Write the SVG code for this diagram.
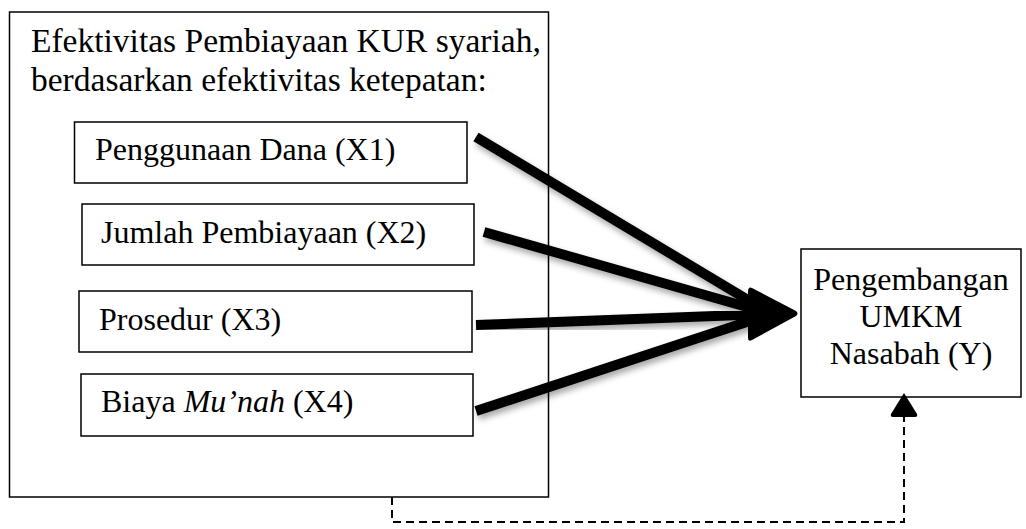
<svg xmlns="http://www.w3.org/2000/svg" width="1026" height="529" viewBox="0 0 1026 529">
<style>
.box{fill:#fff;stroke:#000;stroke-width:1.5}
.t{font-family:"Liberation Serif","Times New Roman",serif;font-size:32px;fill:#000}
.title{font-size:33.5px}
.thick{stroke:#000;stroke-width:10;fill:none;filter:url(#sh)}
.dash{stroke:#000;stroke-width:2;fill:none;stroke-dasharray:8 5}
</style>
<defs>
<filter id="sh" x="-20%" y="-20%" width="140%" height="160%">
<feDropShadow dx="2" dy="4" stdDeviation="3" flood-color="#000" flood-opacity="0.35"/>
</filter>
</defs>
<g id="outer">
<rect class="box" x="9.5" y="12" width="539" height="485"/>
<text class="t title" x="31" y="52">Efektivitas Pembiayaan KUR syariah,</text>
<text class="t title" x="31" y="91">berdasarkan efektivitas ketepatan:</text>
</g>
<g id="x1">
<rect class="box" x="74.5" y="122" width="392.5" height="61"/>
<text class="t" x="95" y="160">Penggunaan Dana (X1)</text>
</g>
<g id="x2">
<rect class="box" x="82" y="204" width="392" height="61"/>
<text class="t" x="101" y="243">Jumlah Pembiayaan (X2)</text>
</g>
<g id="x3">
<rect class="box" x="79" y="291" width="393" height="61"/>
<text class="t" x="99" y="330">Prosedur (X3)</text>
</g>
<g id="x4">
<rect class="box" x="81" y="374" width="392" height="62"/>
<text class="t" x="101" y="412">Biaya <tspan font-style="italic">Mu’nah</tspan> (X4)</text>
</g>
<g id="y">
<rect class="box" x="801" y="249" width="220" height="148"/>
<text class="t" x="911" y="290" text-anchor="middle">Pengembangan</text>
<text class="t" x="911" y="327" text-anchor="middle">UMKM</text>
<text class="t" x="911" y="364" text-anchor="middle">Nasabah (Y)</text>
</g>
<g id="connectors">
<line class="thick" x1="476" y1="137" x2="768" y2="312"/>
<line class="thick" x1="484" y1="232" x2="768" y2="313"/>
<line class="thick" x1="476" y1="325" x2="768" y2="314"/>
<line class="thick" x1="476" y1="411" x2="768" y2="315"/>
<path d="M752,288 L796,311 Q799,313.5 796,316 L752,340 Q748,342 748,338 L748,292 Q748,286 752,288 Z" fill="#000"/>
<path class="dash" d="M392,497 V522 H904 V415"/>
<path d="M904,393 L917,414 Q918,417 915,417 L893,417 Q890,417 891,414 Z" fill="#000"/>
</g>
</svg>
